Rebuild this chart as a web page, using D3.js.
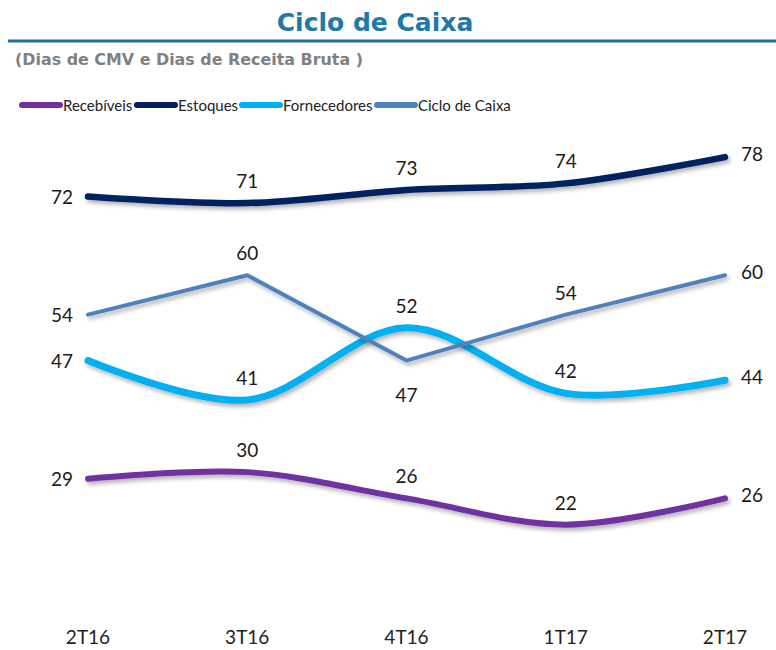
<!DOCTYPE html>
<html>
<head>
<meta charset="utf-8">
<script src="https://cdn.jsdelivr.net/npm/d3@7"></script>
<style>
  body { margin: 0; background: #fff; }
  svg { display: block; }
  text { font-family: Lato, "Liberation Sans", sans-serif; }
  .cond { font-family: "DejaVu Sans", sans-serif; }
</style>
</head>
<body>
<svg id="chart" width="776" height="650"></svg>
<script>
// ── Data ─────────────────────────────────────────────────────────────────────
const quarters     = ["2T16", "3T16", "4T16", "1T17", "2T17"];
const recebiveis   = [29, 30, 26, 22, 26];
const estoques     = [72, 71, 73, 74, 78];
const fornecedores = [47, 41, 52, 42, 44];
const cicloCaixa   = [54, 60, 47, 54, 60];

// label placement per point: "l" left, "r" right, "a" above, "b" below
const series = [
  { name: "Recebíveis",     values: recebiveis,   color: "#7030A0", width: 6,   smooth: true,  pos: ["l", "a", "a", "a", "r"] },
  { name: "Estoques",       values: estoques,     color: "#002060", width: 6.5, smooth: true,  pos: ["l", "a", "a", "a", "r"] },
  { name: "Fornecedores",   values: fornecedores, color: "#00B0F0", width: 7,   smooth: true,  pos: ["l", "a", "a", "a", "r"] },
  { name: "Ciclo de Caixa", values: cicloCaixa,   color: "#4F81BD", width: 4,   smooth: false, pos: ["l", "a", "b", "a", "r"] },
];

// ── Layout ───────────────────────────────────────────────────────────────────
const svg = d3.select("#chart");

const x = d3.scalePoint().domain(quarters).range([88, 725]);
const y = d3.scaleLinear().domain([0, 80]).range([669, 144]);

// drop shadow like the spreadsheet chart
const defs = svg.append("defs");
const f = defs.append("filter").attr("id", "shadow")
  .attr("x", "-5%").attr("y", "-20%").attr("width", "110%").attr("height", "160%");
f.append("feDropShadow")
  .attr("dx", 2).attr("dy", 3).attr("stdDeviation", 2)
  .attr("flood-color", "#000").attr("flood-opacity", 0.3);

// title
svg.append("text").attr("class", "cond")
  .attr("x", 375).attr("y", 31)
  .attr("text-anchor", "middle")
  .style("font-weight", "bold").style("font-size", "25px")
  .style("fill", "#1F78A8")
  .text("Ciclo de Caixa");

svg.append("line")
  .attr("x1", 8).attr("x2", 776).attr("y1", 41).attr("y2", 41)
  .style("stroke", "#1F6E9A").style("stroke-width", 3);

svg.append("text").attr("class", "cond")
  .attr("x", 15).attr("y", 65)
  .attr("textLength", 348).attr("lengthAdjust", "spacingAndGlyphs")
  .style("font-weight", "bold").style("font-size", "16px")
  .style("fill", "#808080")
  .text("(Dias de CMV e Dias de Receita Bruta )");

// legend
const legendX = [22, 137, 242, 377];
const legend = svg.append("g");
series.forEach((s, i) => {
  const g = legend.append("g").attr("transform", `translate(${legendX[i]},105)`);
  g.append("line")
    .attr("x1", 0).attr("x2", 38).attr("y1", 0).attr("y2", 0)
    .style("stroke", s.color).style("stroke-width", 6).style("stroke-linecap", "round");
  g.append("text")
    .attr("x", 41).attr("y", 5.5)
    .style("font-size", "15px").style("fill", "#222")
    .text(s.name);
});

// x labels
svg.append("g").selectAll("text").data(quarters).join("text")
  .attr("x", d => x(d)).attr("y", 644)
  .attr("text-anchor", "middle")
  .style("font-size", "19px").style("fill", "#222")
  .text(d => d);

// lines
const plot = svg.append("g");
series.forEach(s => {
  const line = d3.line()
    .x((d, i) => x(quarters[i]))
    .y(d => y(d))
    .curve(s.smooth ? d3.curveCatmullRom.alpha(0.5) : d3.curveLinear);
  plot.append("path")
    .datum(s.values)
    .attr("d", line)
    .attr("filter", "url(#shadow)")
    .style("fill", "none")
    .style("stroke", s.color)
    .style("stroke-width", s.width)
    .style("stroke-linecap", "round")
    .style("stroke-linejoin", "round");
});

// data labels
const labels = svg.append("g");
series.forEach(s => {
  s.values.forEach((v, i) => {
    const p = s.pos[i];
    let lx = x(quarters[i]), ly = y(v);
    if (p === "l") { lx -= 26; ly += 7; }
    else if (p === "r") { lx += 27; ly += 4; }
    else if (p === "a") { ly -= 15; }
    else if (p === "b") { ly += 41; }
    labels.append("text")
      .attr("x", lx).attr("y", ly)
      .attr("text-anchor", "middle")
      .style("font-size", "19px").style("fill", "#1a1a1a")
      .text(v);
  });
});
</script>
</body>
</html>
